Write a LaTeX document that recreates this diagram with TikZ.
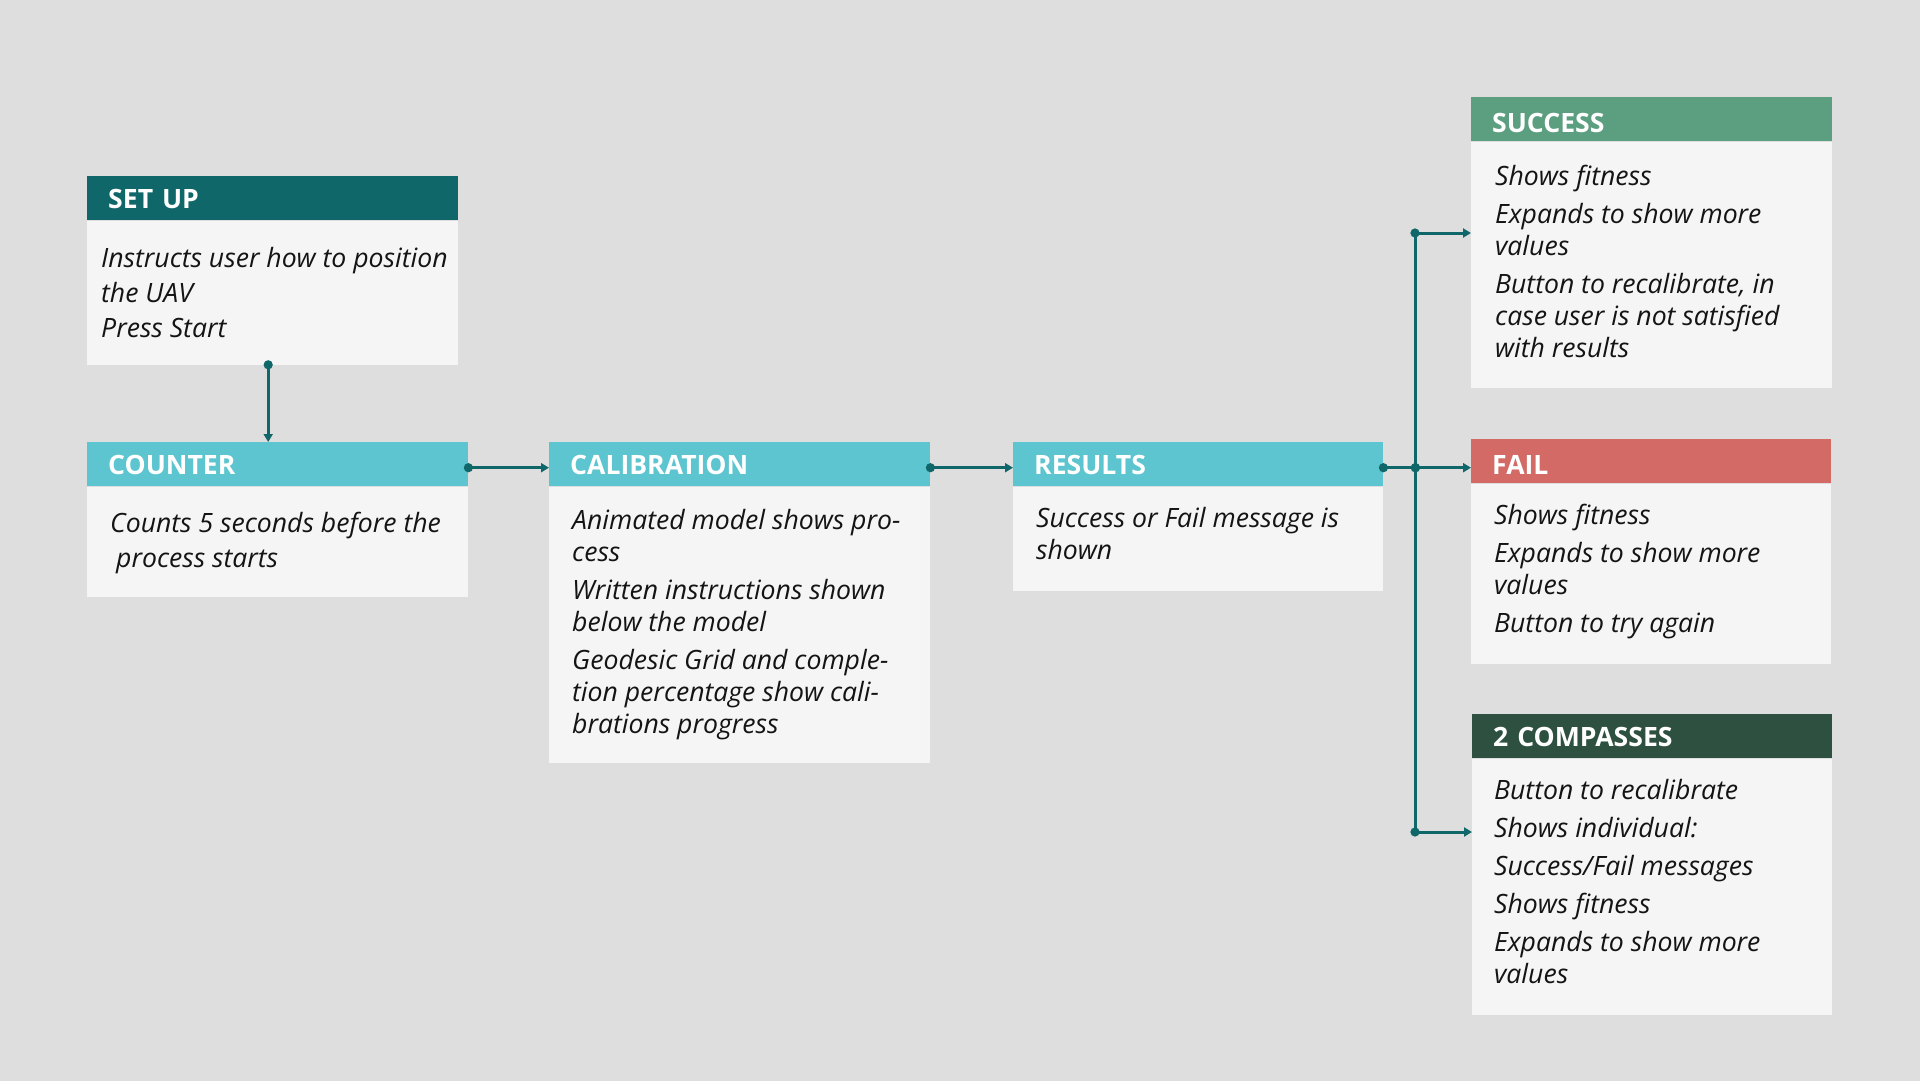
\documentclass[tikz,border=0pt]{standalone}
\usepackage{fontspec}
\setmainfont{Open Sans}
\usetikzlibrary{positioning,arrows.meta}

\definecolor{bgC}{HTML}{DEDEDE}
\definecolor{bodyC}{HTML}{F5F5F5}
\definecolor{txtC}{HTML}{141414}
\definecolor{lineC}{HTML}{10676A}
\definecolor{setupC}{HTML}{10676A}
\definecolor{cyanC}{HTML}{5DC5CF}
\definecolor{successC}{HTML}{5C9E80}
\definecolor{failC}{HTML}{D46A66}
\definecolor{compC}{HTML}{2E5040}

\tikzset{
  hdr/.style={fill=#1, anchor=north west, minimum height=44pt, inner xsep=21pt, inner ysep=0pt,
    text height=21pt, text depth=0pt,
    align=left, text=white, font=\bfseries\fontsize{26.6}{32}\selectfont},
  hdrlow/.style={text height=27pt},
  bodybox/.style={fill=bodyC, minimum height=#1, inner sep=0pt},
  txt/.style={anchor=north west, align=left, inner sep=0pt, text=txtC,
    font=\itshape\fontsize{26.6}{32}\selectfont, execute at begin node={\strut}},
  conn/.style={draw=lineC, line width=3pt, shorten <=-4.5pt,
    {Circle[length=9pt]}-{Triangle[length=8pt,width=9pt]}},
  twodot/.style={draw=lineC, line width=3pt, shorten <=-4.5pt, shorten >=-4.5pt,
    {Circle[length=9pt]}-{Circle[length=9pt]}},
  bus/.style={draw=lineC, line width=3pt},
}

\begin{document}
\begin{tikzpicture}[x=1pt, y=-1pt]
  \fill[bgC] (0,0) rectangle (1920,1081);
  \useasboundingbox (0,0) rectangle (1920,1081);

  % set up
  \node[hdr=setupC, text width=329pt] (setupH) at (87,176) {SET UP};
  \node[bodybox=144pt, minimum width=371pt, below right=0pt and 0pt of setupH.south west] (setupB) {};
  \node[txt] (setupT) at ([shift={(14,26.6)}]setupB.north west)
    {Instructs user how to position\\[3pt] the UAV\\[3pt] Press Start};

  % counter
  \node[hdr=cyanC, text width=339pt] (counterH) at (87,442) {COUNTER};
  \node[bodybox=110pt, minimum width=381pt, below right=0pt and 0pt of counterH.south west] (counterB) {};
  \node[txt] (counterT) at ([shift={(23,25.6)}]counterB.north west)
    {Counts 5 seconds before the\\[3pt] \hspace{6pt}process starts};

  % calibration
  \node[hdr=cyanC, text width=339pt] (calH) at (549,442) {CALIBRATION};
  \node[bodybox=276pt, minimum width=381pt, below right=0pt and 0pt of calH.south west] (calB) {};
  \node[txt] (calT) at ([shift={(23,23)}]calB.north west)
    {Animated model shows pro-\\ cess\\[6pt] Written instructions shown\\ below the model\\[6pt]
     Geodesic Grid and comple-\\ tion percentage show cali-\\ brations progress};

  % results
  \node[hdr=cyanC, text width=328pt] (resH) at (1013,442) {RESULTS};
  \node[bodybox=104pt, minimum width=370pt, below right=0pt and 0pt of resH.south west] (resB) {};
  \node[txt] (resT) at ([shift={(23,21)}]resB.north west)
    {Success or Fail message is\\ shown};

  % success
  \node[hdr=successC, hdrlow, text width=319pt] (succH) at (1471,97) {SUCCESS};
  \node[bodybox=246pt, minimum width=361pt, below right=0pt and 0pt of succH.south west] (succB) {};
  \node[txt] (succT) at ([shift={(24,24)}]succB.north west)
    {Shows fitness\\[6pt] Expands to show more\\ values\\[6pt]
     Button to recalibrate, in\\ case user is not satisfied\\ with results};

  % fail
  \node[hdr=failC, hdrlow, text width=318pt] (failH) at (1471,439) {FAIL};
  \node[bodybox=180pt, minimum width=360pt, below right=0pt and 0pt of failH.south west] (failB) {};
  \node[txt] (failT) at ([shift={(23,21)}]failB.north west)
    {Shows fitness\\[6pt] Expands to show more\\ values\\[6pt] Button to try again};

  % 2 compasses
  \node[hdr=compC, text width=318pt] (compH) at (1472,714) {2 COMPASSES};
  \node[bodybox=256pt, minimum width=360pt, below right=0pt and 0pt of compH.south west] (compB) {};
  \node[txt] (compT) at ([shift={(22,21)}]compB.north west)
    {Button to recalibrate\\[6pt] Shows individual:\\[6pt] Success/Fail messages\\[6pt]
     Shows fitness\\[6pt] Expands to show more\\ values};

  % connectors
  \draw[conn] ([xshift=-4.5pt]setupB.south) -- ([xshift=-4.5pt]setupB.south |- counterH.north);
  \draw[conn] ([yshift=-3.5pt]counterH.east) -- ([yshift=-3.5pt]calH.west);
  \draw[conn] ([yshift=-3.5pt]calH.east) -- ([yshift=-3.5pt]resH.west);

  \coordinate[right=32pt of resH.east, yshift=-3.5pt] (bus);
  \coordinate (busTop) at (1415,233);
  \coordinate (busBot) at (1415,832);
  \draw[twodot] ([yshift=-3.5pt]resH.east) -- (bus);
  \draw[bus] (busTop) -- (busBot);
  \draw[conn] (bus) -- (bus -| failH.west);
  \draw[conn] (busTop) -- (busTop -| succB.west);
  \draw[conn] (busBot) -- (busBot -| compB.west);
\end{tikzpicture}
\end{document}
